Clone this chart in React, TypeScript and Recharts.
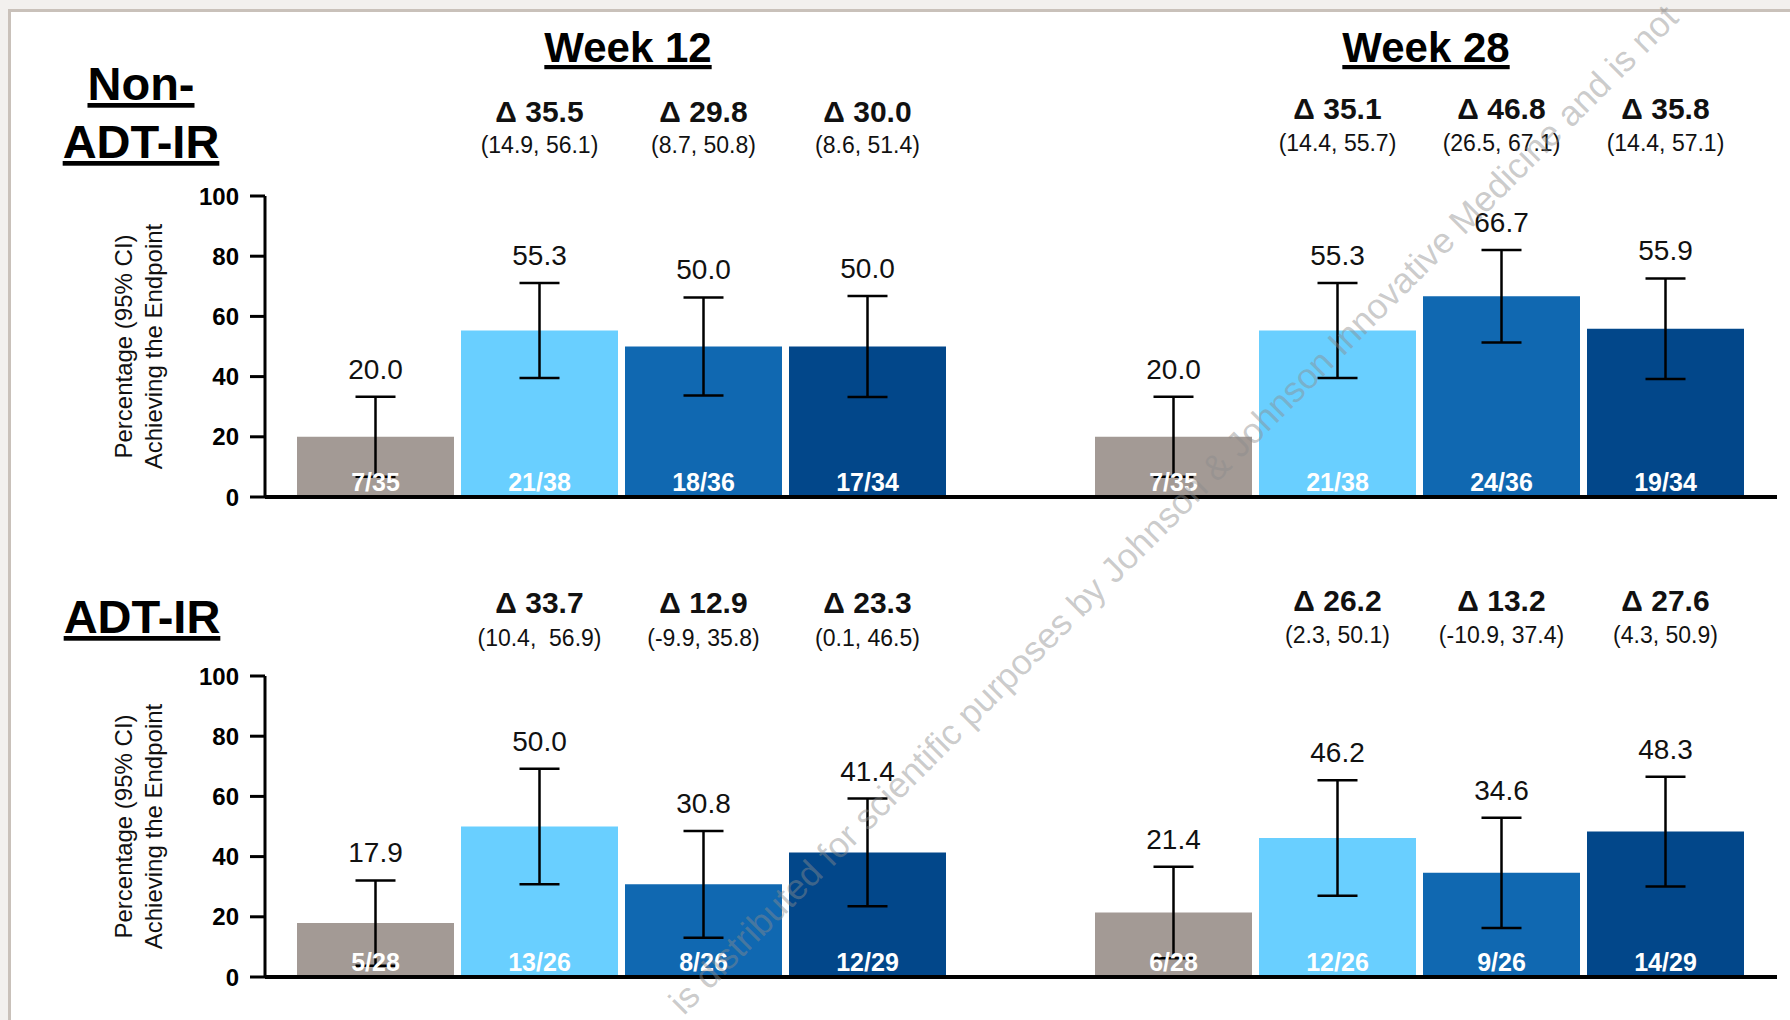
import React from "react";
import { BarChart, Bar, XAxis, YAxis, ErrorBar, LabelList } from "recharts";

const FONT = "'Liberation Sans', Arial, Helvetica, sans-serif";

const weeks = ["Week 12", "Week 28"];
const armKeys = ["placebo", "dose1", "dose2", "dose3"];
const armColors = ["#A39A95", "#69CFFF", "#1068B1", "#02478A"];
const yTicks = [0, 20, 40, 60, 80, 100];

// Non-ADT-IR
const nonAdtWk12Pct = [20.0, 55.3, 50.0, 50.0];
const nonAdtWk28Pct = [20.0, 55.3, 66.7, 55.9];
const nonAdtWk12Low = [6.7, 39.5, 33.7, 33.2];
const nonAdtWk12High = [33.3, 71.1, 66.3, 66.8];
const nonAdtWk28Low = [6.7, 39.5, 51.3, 39.2];
const nonAdtWk28High = [33.3, 71.1, 82.1, 72.6];
const nonAdtWk12N = ["7/35", "21/38", "18/36", "17/34"];
const nonAdtWk28N = ["7/35", "21/38", "24/36", "19/34"];
const nonAdtWk12Delta = ["", "35.5", "29.8", "30.0"];
const nonAdtWk28Delta = ["", "35.1", "46.8", "35.8"];
const nonAdtWk12DeltaCI = ["", "(14.9, 56.1)", "(8.7, 50.8)", "(8.6, 51.4)"];
const nonAdtWk28DeltaCI = ["", "(14.4, 55.7)", "(26.5, 67.1)", "(14.4, 57.1)"];

// ADT-IR
const adtWk12Pct = [17.9, 50.0, 30.8, 41.4];
const adtWk28Pct = [21.4, 46.2, 34.6, 48.3];
const adtWk12Low = [3.7, 30.8, 13.0, 23.5];
const adtWk12High = [32.1, 69.2, 48.5, 59.3];
const adtWk28Low = [6.2, 27.0, 16.3, 30.1];
const adtWk28High = [36.6, 65.4, 52.9, 66.5];
const adtWk12N = ["5/28", "13/26", "8/26", "12/29"];
const adtWk28N = ["6/28", "12/26", "9/26", "14/29"];
const adtWk12Delta = ["", "33.7", "12.9", "23.3"];
const adtWk28Delta = ["", "26.2", "13.2", "27.6"];
const adtWk12DeltaCI = ["", "(10.4,  56.9)", "(-9.9, 35.8)", "(0.1, 46.5)"];
const adtWk28DeltaCI = ["", "(2.3, 50.1)", "(-10.9, 37.4)", "(4.3, 50.9)"];

const WATERMARK = "is distributed for scientific purposes by Johnson & Johnson Innovative Medicine and is not";

function buildRows(
  pct: number[][],
  low: number[][],
  high: number[][],
  n: string[][],
  delta: string[][],
  ci: string[][]
) {
  return weeks.map((week, w) => {
    const row: any = { week };
    armKeys.forEach((k, i) => {
      row[k] = pct[w][i];
      row[k + "Err"] = [
        Math.round((pct[w][i] - low[w][i]) * 10) / 10,
        Math.round((high[w][i] - pct[w][i]) * 10) / 10,
      ];
      row[k + "Hi"] = high[w][i];
      row[k + "N"] = n[w][i];
      row[k + "Delta"] = delta[w][i];
      row[k + "CI"] = ci[w][i];
    });
    return row;
  });
}

const nonAdtRows = buildRows(
  [nonAdtWk12Pct, nonAdtWk28Pct],
  [nonAdtWk12Low, nonAdtWk28Low],
  [nonAdtWk12High, nonAdtWk28High],
  [nonAdtWk12N, nonAdtWk28N],
  [nonAdtWk12Delta, nonAdtWk28Delta],
  [nonAdtWk12DeltaCI, nonAdtWk28DeltaCI]
);
const adtRows = buildRows(
  [adtWk12Pct, adtWk28Pct],
  [adtWk12Low, adtWk28Low],
  [adtWk12High, adtWk28High],
  [adtWk12N, adtWk28N],
  [adtWk12Delta, adtWk28Delta],
  [adtWk12DeltaCI, adtWk28DeltaCI]
);

function box(p: any) {
  const vb = p.viewBox && p.viewBox.width != null ? p.viewBox : p;
  return { x: Number(vb.x), y: Number(vb.y), w: Number(vb.width), h: Number(vb.height) };
}

type PanelProps = {
  rows: any[];
  height: number;
  marginTop: number;
  showTitles: boolean;
  deltaY: number[][];
};

function Panel({ rows, height, marginTop, showTitles, deltaY }: PanelProps) {
  const valueLabel = (key: string) => (p: any) => {
    const { x, y, w, h } = box(p);
    const row = rows[p.index];
    if (!row) return null;
    const v = row[key];
    const hi = row[key + "Hi"];
    const errTop = v > 0 ? y - (hi - v) * (h / v) : y;
    return (
      <text x={x + w / 2} y={errTop - 18} textAnchor="middle" fontSize={28} fill="#111" fontFamily={FONT}>
        {v.toFixed(1)}
      </text>
    );
  };
  const countLabel = (key: string) => (p: any) => {
    const { x, y, w, h } = box(p);
    const row = rows[p.index];
    if (!row) return null;
    return (
      <text x={x + w / 2} y={y + h - 6} textAnchor="middle" fontSize={25} fontWeight="bold" fill="#fff" fontFamily={FONT}>
        {row[key + "N"]}
      </text>
    );
  };
  const deltaLabel = (key: string) => (p: any) => {
    const { x, w } = box(p);
    const row = rows[p.index];
    if (!row || !row[key + "Delta"]) return null;
    const [dy, cy] = deltaY[p.index];
    return (
      <g>
        <text x={x + w / 2} y={dy} textAnchor="middle" fontSize={30} fontWeight="bold" fill="#111" fontFamily={FONT}>
          {"\u0394 " + row[key + "Delta"]}
        </text>
        <text x={x + w / 2} y={cy} textAnchor="middle" fontSize={23} fill="#111" fontFamily={FONT} style={{ whiteSpace: "pre" }}>
          {row[key + "CI"]}
        </text>
      </g>
    );
  };
  const weekTick = (p: any) => (
    <text
      x={p.x + 6}
      y={62}
      textAnchor="middle"
      fontSize={42}
      fontWeight="bold"
      fill="#000"
      fontFamily={FONT}
      style={{ textDecoration: "underline" }}
    >
      {p.payload.value}
    </text>
  );
  const yLabel = (p: any) => {
    const vb = p.viewBox || {};
    const cy = Number(vb.y) + Number(vb.height) / 2;
    return (
      <text transform={`translate(132, ${cy}) rotate(-90)`} textAnchor="middle" fontSize={24} fill="#111" fontFamily={FONT}>
        <tspan x={0} y={0}>Percentage (95% CI)</tspan>
        <tspan x={0} y={30}>Achieving the Endpoint</tspan>
      </text>
    );
  };

  return (
    <BarChart
      width={1790}
      height={height}
      data={rows}
      margin={{ top: marginTop, right: 13, bottom: 0, left: 0 }}
      barCategoryGap={74}
      barGap={7}
    >
      <XAxis
        dataKey="week"
        height={23}
        padding={{ left: -42, right: -42 }}
        axisLine={{ stroke: "#000", strokeWidth: 4 }}
        tickLine={false}
        tick={showTitles ? weekTick : false}
        interval={0}
      />
      <YAxis
        width={265}
        domain={[0, 100]}
        ticks={yTicks}
        interval={0}
        axisLine={{ stroke: "#000", strokeWidth: 3 }}
        tickLine={{ stroke: "#000", strokeWidth: 3 }}
        tickSize={15}
        tickMargin={11}
        tick={{ fontSize: 24, fontWeight: "bold", fill: "#000", fontFamily: FONT }}
        label={yLabel}
      />
      {armKeys.map((k, i) => (
        <Bar key={k} dataKey={k} fill={armColors[i]} isAnimationActive={false}>
          <ErrorBar dataKey={k + "Err"} width={20} stroke="#000" strokeWidth={2.5} direction="y" isAnimationActive={false} />
          <LabelList dataKey={k} content={valueLabel(k)} />
          <LabelList dataKey={k} content={countLabel(k)} />
          {i > 0 ? <LabelList dataKey={k} content={deltaLabel(k)} /> : null}
        </Bar>
      ))}
    </BarChart>
  );
}

export default function App() {
  return (
    <div
      style={{
        position: "absolute",
        left: 0,
        top: 0,
        width: 1790,
        height: 1020,
        background: "#F2F0EE",
        overflow: "hidden",
        fontFamily: FONT,
      }}
    >
      <div
        style={{
          position: "absolute",
          left: 8,
          top: 9,
          width: 1800,
          height: 1030,
          background: "#fff",
          borderLeft: "3px solid #C9C1BA",
          borderTop: "3px solid #C9C1BA",
        }}
      />
      <div style={{ position: "absolute", left: 0, top: 0 }}>
        <Panel rows={nonAdtRows} height={520} marginTop={196} showTitles={true} deltaY={[[122, 153], [119, 151]]} />
      </div>
      <div style={{ position: "absolute", left: 0, top: 500 }}>
        <Panel rows={adtRows} height={500} marginTop={176} showTitles={false} deltaY={[[113, 146], [111, 143]]} />
      </div>
      <svg
        width={1790}
        height={1020}
        style={{ position: "absolute", left: 0, top: 0, pointerEvents: "none" }}
      >
        <g fontFamily={FONT} fontWeight="bold" fontSize={47} fill="#000" textAnchor="middle" style={{ textDecoration: "underline" }}>
          <text x={141} y={100}>Non-</text>
          <text x={141} y={158}>ADT-IR</text>
          <text x={142} y={633}>ADT-IR</text>
        </g>
        <text
          transform="translate(1182, 518) rotate(-45)"
          textAnchor="middle"
          fontSize={35.5}
          fill="#8C8C8C"
          fillOpacity={0.45}
          fontFamily={FONT}
        >
          {WATERMARK}
        </text>
      </svg>
    </div>
  );
}
